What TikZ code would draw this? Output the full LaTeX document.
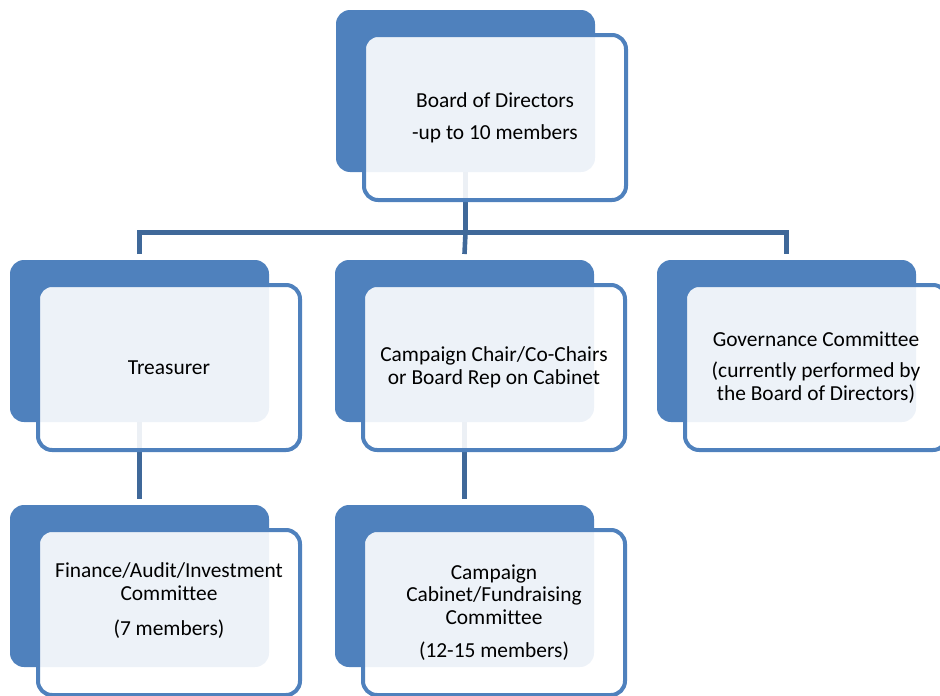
\documentclass[tikz,border=0pt]{standalone}
\usepackage{fontspec}
\setmainfont{Carlito}[Ligatures=NoCommon]
\usetikzlibrary{positioning}
\definecolor{boxblue}{RGB}{79,129,189}
\definecolor{linkblue}{RGB}{63,104,153}
\tikzset{
  backbox/.style={fill=boxblue, rounded corners=14pt, minimum width=259pt,
    minimum height=162pt, outer sep=0pt, inner sep=0pt, anchor=north west},
  frontbox/.style={draw=boxblue, line width=4pt, fill=white, fill opacity=0.9,
    text opacity=1, rounded corners=14pt, minimum width=262pt, minimum height=165pt,
    outer sep=0pt, align=center, font=\fontsize{21.4}{22.8}\selectfont},
  link/.style={draw=linkblue, line width=4.6pt}
}
\begin{document}
\begin{tikzpicture}[x=1pt,y=-1pt]
\clip (0,0) rectangle (940,696);
\node[backbox] (board) at (336,10) {};
\node[backbox] (treas) at (10,260) {};
\node[backbox] (camp)  at (335,260) {};
\node[backbox] (gov)   at (657,260) {};
\node[backbox] (fin)   at (10,505) {};
\node[backbox] (cab)   at (335,505) {};
\path (board.south) ++(0,60.5) coordinate (bus);
\draw[link] (board.south) -- (bus);
\draw[link] ([yshift=6pt]treas.north) |- (bus) -| ([yshift=6pt]gov.north);
\draw[link] (bus) -- ([yshift=6pt]camp.north);
\draw[link] (treas.south) -- ([yshift=6pt]fin.north);
\draw[link] (camp.south) -- ([yshift=6pt]cab.north);
\node[frontbox, below right=25pt and 28pt of board.north west] (boardf)
  {Board of Directors\\[9pt]-up to 10 members};
\node[frontbox, below right=25pt and 28pt of treas.north west] (treasf) {Treasurer};
\node[frontbox, below right=25pt and 28pt of camp.north west] (campf)
  {Campaign Chair/Co-Chairs\\or Board Rep on Cabinet};
\node[frontbox, below right=25pt and 28pt of gov.north west] (govf)
  {Governance Committee\\[9pt](currently performed by\\the Board of Directors)};
\node[frontbox, below right=25pt and 28pt of fin.north west] (finf)
  {Finance/Audit/Investment\\Committee\\[13pt](7 members)\\[4pt]~};
\node[frontbox, below right=25pt and 28pt of cab.north west] (cabf)
  {Campaign\\Cabinet/Fundraising\\Committee\\[10pt](12-15 members)};
\end{tikzpicture}
\end{document}
